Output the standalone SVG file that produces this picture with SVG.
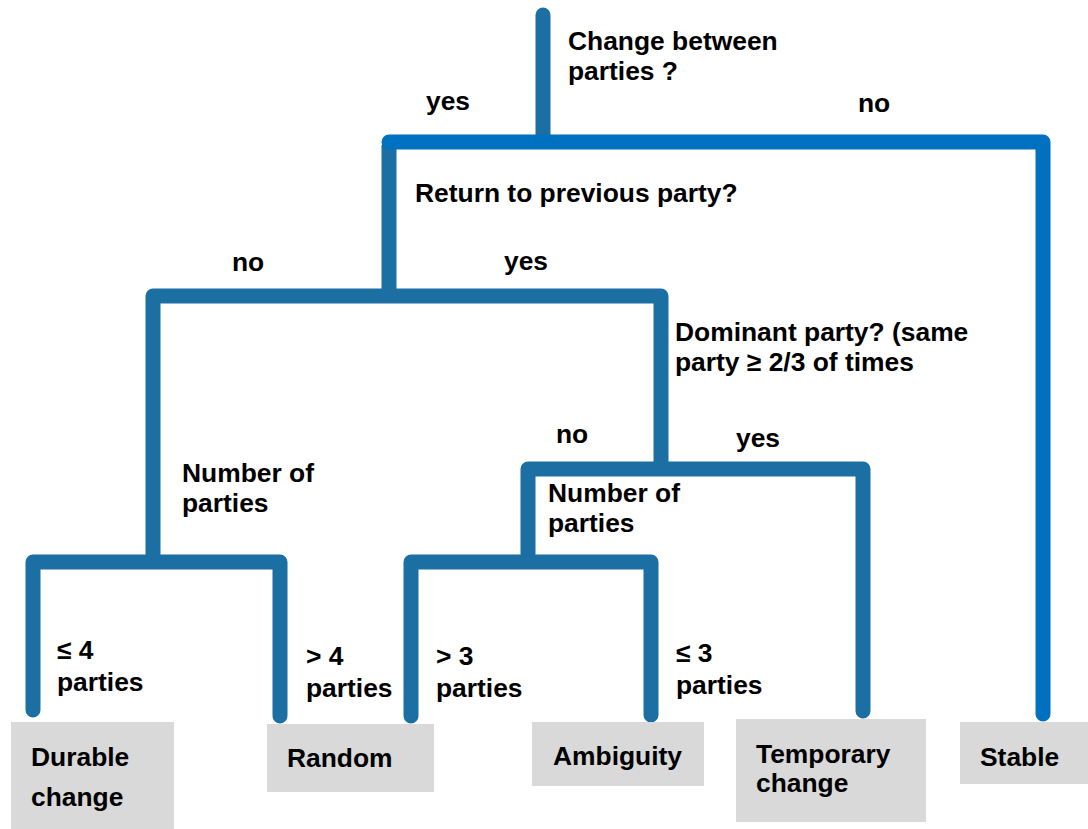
<svg xmlns="http://www.w3.org/2000/svg" width="1088" height="829" viewBox="0 0 1088 829">
<style>
.dk{fill:none;stroke:#1b6fa3;stroke-width:15;stroke-linecap:round;stroke-linejoin:round}
.br{fill:none;stroke:#0070c0;stroke-width:15;stroke-linecap:round;stroke-linejoin:round}
.bt{stroke-linecap:butt}
text{font-family:"Liberation Sans",Arial,sans-serif;font-weight:bold;font-size:26.4px;fill:#000}
.box{fill:#d9d9d9}
</style>
<rect width="1088" height="829" fill="#fff"/>
<g id="connectors">
<path class="dk" d="M543,15 V140"/>
<path class="dk bt" d="M389,145 V296"/>
<path class="br" d="M389,142 H1043 V714"/>
<path class="dk" d="M153,554 V296 H661 V462"/>
<path class="dk" d="M528,554 V469 H863 V711"/>
<path class="dk" d="M33,710 V562 H280 V716"/>
<path class="dk" d="M411,716 V562 H651 V715"/>
</g>
<g id="q1"><text x="568" y="50">Change between</text><text x="568" y="80">parties ?</text></g>
<g id="q1-yes"><text x="426" y="110">yes</text></g>
<g id="q1-no"><text x="858" y="112">no</text></g>
<g id="q2"><text x="415" y="202">Return to previous party?</text></g>
<g id="q2-no"><text x="232" y="271">no</text></g>
<g id="q2-yes"><text x="504" y="270">yes</text></g>
<g id="q3"><text x="675" y="341">Dominant party? (same</text><text x="675" y="371">party ≥ 2/3 of times</text></g>
<g id="q3-no"><text x="556" y="443">no</text></g>
<g id="q3-yes"><text x="736" y="447">yes</text></g>
<g id="q4"><text x="182" y="482">Number of</text><text x="182" y="512">parties</text></g>
<g id="q5"><text x="548" y="502">Number of</text><text x="548" y="532">parties</text></g>
<g id="l-le4"><text x="57" y="659">≤ 4</text><text x="57" y="691">parties</text></g>
<g id="l-gt4"><text x="306" y="665">&gt; 4</text><text x="306" y="697">parties</text></g>
<g id="l-gt3"><text x="436" y="665">&gt; 3</text><text x="436" y="697">parties</text></g>
<g id="l-le3"><text x="676" y="662">≤ 3</text><text x="676" y="694">parties</text></g>
<g id="durable"><rect class="box" x="11" y="722" width="163" height="107"/><text x="31" y="766">Durable</text><text x="31" y="806">change</text></g>
<g id="random"><rect class="box" x="267" y="724" width="167" height="68"/><text x="287" y="767">Random</text></g>
<g id="ambiguity"><rect class="box" x="532" y="722" width="172" height="64"/><text x="553" y="765">Ambiguity</text></g>
<g id="temporary"><rect class="box" x="736" y="719" width="190" height="103"/><text x="756" y="763">Temporary</text><text x="756" y="792">change</text></g>
<g id="stable"><rect class="box" x="960" y="722" width="128" height="62"/><text x="980" y="766">Stable</text></g>
</svg>
